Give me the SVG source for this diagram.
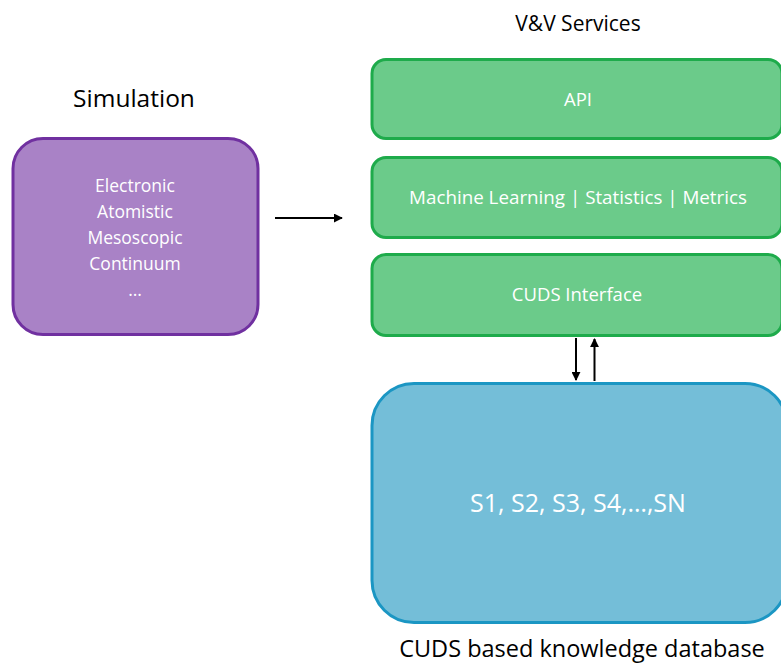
<svg xmlns="http://www.w3.org/2000/svg" width="781" height="664" viewBox="0 0 781 664">
  <defs>
    <style>
      .title { font-family: "Open Sans", "Noto Sans", sans-serif; font-size: 24.5px; fill: #000; text-anchor: middle; }
      .label { font-family: "Open Sans", "Noto Sans", sans-serif; font-size: 18.5px; fill: #fff; text-anchor: middle; }
      .sim { font-size: 17.5px; }
      .big { font-family: "Open Sans", "Noto Sans", sans-serif; font-size: 25px; fill: #fff; text-anchor: middle; }
      .layer rect { fill: #6bcb8a; stroke: #1eab4b; stroke-width: 3; }
      .conn { stroke: #000; stroke-width: 2; fill: none; marker-end: url(#arrow); }
    </style>
    <marker id="arrow" viewBox="0 0 10 10" refX="9" refY="5" markerWidth="4.5" markerHeight="4.5" orient="auto" markerUnits="strokeWidth">
      <path d="M0,0 L10,5 L0,10 z" fill="#000"/>
    </marker>
  </defs>

  <rect width="781" height="664" fill="#fff"/>

  <!-- headings -->
  <text class="title" x="134" y="107">Simulation</text>
  <text class="title" x="578" y="31" style="font-size:21px">V&amp;V Services</text>
  <text class="title" x="582" y="656.5" style="font-size:23.5px">CUDS based knowledge database</text>

  <!-- simulation scales -->
  <g id="simulation">
    <rect x="13" y="138.5" width="245" height="196" rx="30" fill="#a982c6" stroke="#7030a0" stroke-width="3"/>
    <text class="label sim" x="135" y="191.5">Electronic</text>
    <text class="label sim" x="135" y="217.5">Atomistic</text>
    <text class="label sim" x="135" y="243.5">Mesoscopic</text>
    <text class="label sim" x="135" y="269.5">Continuum</text>
    <text class="label sim" x="135" y="296">…</text>
  </g>

  <!-- service layers -->
  <g id="api" class="layer">
    <rect x="372" y="59.5" width="410" height="79" rx="14"/>
    <text class="label" x="578" y="106">API</text>
  </g>
  <g id="analysis" class="layer">
    <rect x="372" y="157.5" width="410" height="80" rx="14"/>
    <text class="label" x="578" y="204" style="font-size:18.8px">Machine Learning | Statistics | Metrics</text>
  </g>
  <g id="cuds-interface" class="layer">
    <rect x="372" y="254.5" width="410" height="81" rx="14"/>
    <text class="label" x="577" y="300.5">CUDS Interface</text>
  </g>

  <!-- knowledge database -->
  <g id="database">
    <rect x="372" y="383.5" width="415" height="239" rx="42" fill="#74bed8" stroke="#1b96c3" stroke-width="3"/>
    <text class="big" x="578" y="512">S1, S2, S3, S4,…,SN</text>
  </g>

  <!-- connectors -->
  <g id="connectors">
    <line class="conn" x1="275" y1="218" x2="342" y2="218"/>
    <line class="conn" x1="576" y1="338" x2="576" y2="380"/>
    <line class="conn" x1="594.5" y1="381" x2="594.5" y2="339"/>
  </g>
</svg>
